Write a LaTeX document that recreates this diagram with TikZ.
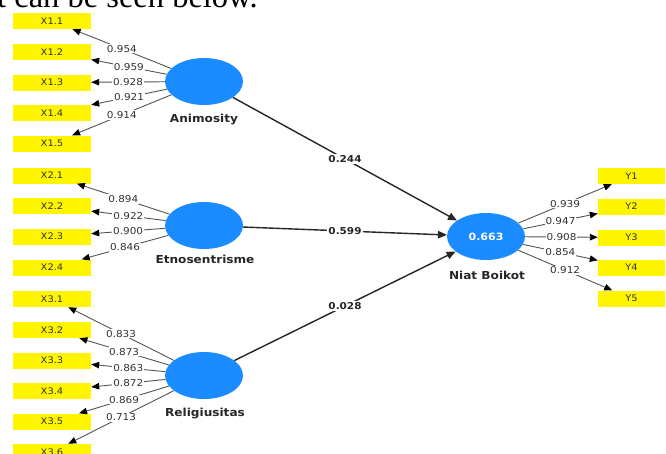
\documentclass[tikz,border=0pt]{standalone}
\usepackage{fontspec}
\setmainfont{DejaVu Sans}[FakeStretch=1.1]
\newfontfamily\bodyserif{Liberation Serif}
\usetikzlibrary{arrows.meta, shapes.geometric}
\definecolor{lvblue}{HTML}{1A8CFF}
\definecolor{indyellow}{HTML}{FFF500}
\definecolor{ldgray}{HTML}{555555}
\definecolor{txtgray}{HTML}{333333}

\begin{document}
\begin{tikzpicture}[x=1pt, y=-1pt,
  >={Triangle[length=8pt, width=6.5pt, black]},
  indicator/.style={fill=indyellow, minimum width=78pt, minimum height=16pt, inner sep=0pt,
                    font=\fontsize{9}{10}\selectfont, text=txtgray},
  indright/.style={indicator, minimum width=67pt},
  latent/.style={ellipse, fill=lvblue, minimum width=78pt, minimum height=47pt, inner sep=0pt,
                 text=white, font=\fontsize{10}{12}\selectfont\bfseries},
  lvname/.style={font=\fontsize{11}{13}\selectfont\bfseries, text=black!85},
  loading/.style={ldgray, line width=0.9pt, ->},
  structural/.style={black!85, line width=1.4pt, -{Triangle[length=9pt, width=7.5pt]}},
  ldlabel/.style={fill=white, inner sep=1pt, font=\fontsize{9.5}{11}\selectfont, text=txtgray},
  pclabel/.style={fill=white, inner sep=1pt, font=\fontsize{9.5}{11}\selectfont\bfseries, text=black!85},
]
\useasboundingbox (0,0) rectangle (666,453);
\fill[white] (0,0) rectangle (666,453);

% Cut-off text line above the figure
\node[font=\bodyserif\fontsize{32.5}{33}\selectfont, anchor=base west, inner sep=0pt] (caption) at (-3,7.5) {t can be seen below.};

% ============ Latent variables ============
\node[latent] (anim) at (204,81.5) {};
\node[lvname] (animname) at (204,120) {Animosity};

\node[latent] (etno) at (204,225.5) {};
\node[lvname] (etnoname) at (205,259) {Etnosentrisme};

\node[latent] (reli) at (204,375.5) {};
\node[lvname] (reliname) at (205,413) {Religiusitas};

\node[latent] (niat) at (486,236.5) {0.663};
\node[lvname] (niatname) at (487,275) {Niat Boikot};

% ============ Indicators: Animosity ============
\node[indicator] (x11) at (52,21) {X1.1};
\node[indicator] (x12) at (52,52) {X1.2};
\node[indicator] (x13) at (52,82.5) {X1.3};
\node[indicator] (x14) at (52,113) {X1.4};
\node[indicator] (x15) at (52,143.5) {X1.5};

\draw[loading] (anim) -- node[ldlabel] {0.954} (x11);
\draw[loading] (anim) -- node[ldlabel] {0.959} (x12);
\draw[loading] (anim) -- node[ldlabel] {0.928} (x13);
\draw[loading] (anim) -- node[ldlabel] {0.921} (x14);
\draw[loading] (anim) -- node[ldlabel] {0.914} (x15);

% ============ Indicators: Etnosentrisme ============
\node[indicator] (x21) at (52,175.5) {X2.1};
\node[indicator] (x22) at (52,206) {X2.2};
\node[indicator] (x23) at (52,236.5) {X2.3};
\node[indicator] (x24) at (52,267.5) {X2.4};

\draw[loading] (etno) -- node[ldlabel] {0.894} (x21);
\draw[loading] (etno) -- node[ldlabel] {0.922} (x22);
\draw[loading] (etno) -- node[ldlabel] {0.900} (x23);
\draw[loading] (etno) -- node[ldlabel] {0.846} (x24);

% ============ Indicators: Religiusitas ============
\node[indicator] (x31) at (52,299) {X3.1};
\node[indicator] (x32) at (52,330) {X3.2};
\node[indicator] (x33) at (52,360.5) {X3.3};
\node[indicator] (x34) at (52,391) {X3.4};
\node[indicator] (x35) at (52,421.5) {X3.5};
\node[indicator] (x36) at (52,452) {X3.6};

\draw[loading] (reli) -- node[ldlabel] {0.833} (x31);
\draw[loading] (reli) -- node[ldlabel] {0.873} (x32);
\draw[loading] (reli) -- node[ldlabel] {0.863} (x33);
\draw[loading] (reli) -- node[ldlabel] {0.872} (x34);
\draw[loading] (reli) -- node[ldlabel] {0.869} (x35);
\draw[loading] (reli) -- node[ldlabel] {0.713} (x36);

% ============ Indicators: Niat Boikot ============
\node[indright] (y1) at (631.5,176) {Y1};
\node[indright] (y2) at (631.5,206.5) {Y2};
\node[indright] (y3) at (631.5,237.5) {Y3};
\node[indright] (y4) at (631.5,267.5) {Y4};
\node[indright] (y5) at (631.5,298.5) {Y5};

\draw[loading] (niat) -- node[ldlabel] {0.939} (y1);
\draw[loading] (niat) -- node[ldlabel] {0.947} (y2);
\draw[loading] (niat) -- node[ldlabel] {0.908} (y3);
\draw[loading] (niat) -- node[ldlabel] {0.854} (y4);
\draw[loading] (niat) -- node[ldlabel] {0.912} (y5);

% ============ Structural paths ============
\draw[structural] (anim) -- node[pclabel] {0.244} (niat);
\draw[structural] (etno) -- node[pclabel] {0.599} (niat);
\draw[structural] (reli) -- node[pclabel] {0.028} (niat);

\end{tikzpicture}
\end{document}
